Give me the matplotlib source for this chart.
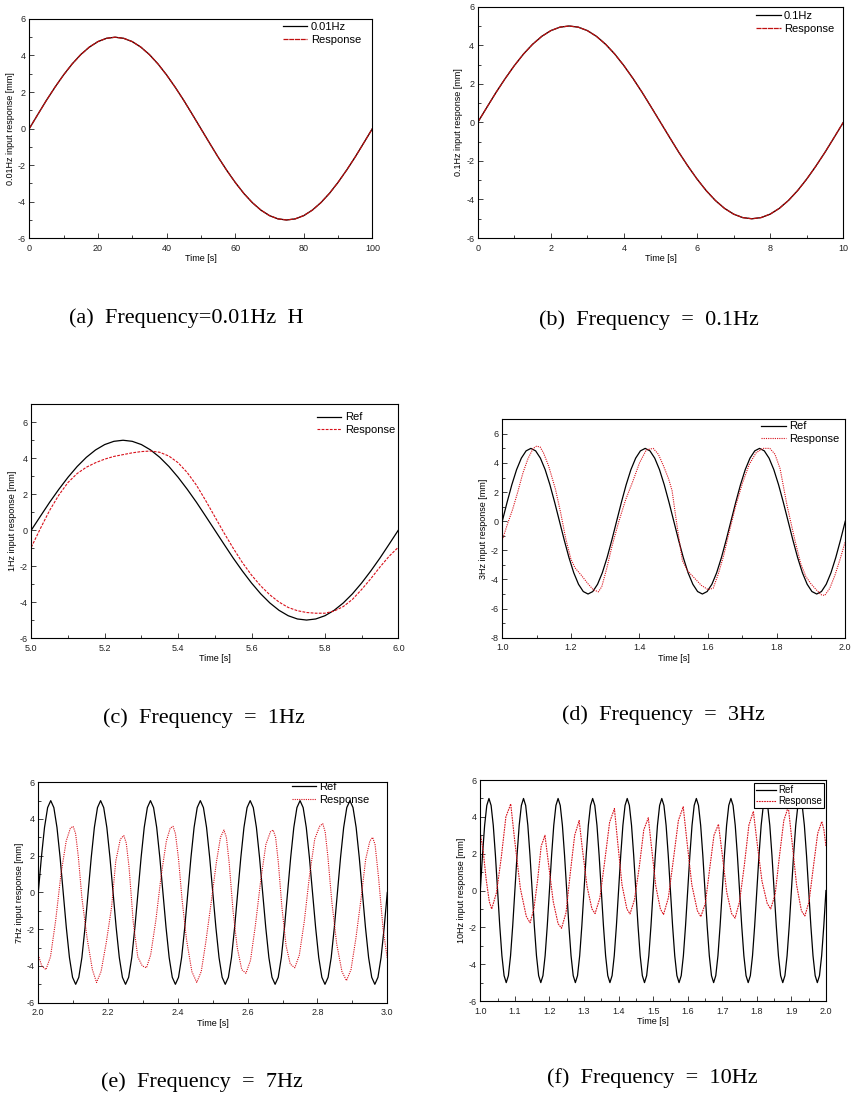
import numpy as np
import matplotlib
matplotlib.use('Agg')
import matplotlib.pyplot as plt
from matplotlib.ticker import MultipleLocator

plt.rcParams['font.family'] = ['Liberation Sans', 'DejaVu Sans']

# ---- data ----
# one slow cycle, 40 samples (used for the 0.01Hz, 0.1Hz and 1Hz references)
ref_slow = [0, 0.78, 1.55, 2.27, 2.94, 3.54, 4.05, 4.46, 4.76, 4.94,
            5, 4.94, 4.76, 4.46, 4.05, 3.54, 2.94, 2.27, 1.55, 0.78,
            0, -0.78, -1.55, -2.27, -2.94, -3.54, -4.05, -4.46, -4.76, -4.94,
            -5, -4.94, -4.76, -4.46, -4.05, -3.54, -2.94, -2.27, -1.55, -0.78, 0]

# (a) 0.01Hz: response lies on the reference
ref_a = ref_slow
resp_a = ref_slow
# (b) 0.1Hz
ref_b = ref_slow
resp_b = ref_slow
# (c) 1Hz
ref_c = ref_slow
resp_c = [-0.95, 0.1, 1.1, 1.95, 2.65, 3.15, 3.5, 3.75, 3.95, 4.1,
          4.2, 4.3, 4.37, 4.4, 4.33, 4.12, 3.75, 3.2, 2.5, 1.65,
          0.75, -0.15, -1.0, -1.8, -2.5, -3.1, -3.6, -4.0, -4.3, -4.48,
          -4.58, -4.62, -4.62, -4.5, -4.25, -3.85, -3.3, -2.7, -2.05, -1.45, -0.95]

# (d) 3Hz reference, 24 samples per cycle
ref_d = [0, 1.29, 2.5, 3.54, 4.33, 4.83, 5, 4.83, 4.33, 3.54, 2.5, 1.29, 0, -1.29, -2.5, -3.54, -4.33, -4.83, -5, -4.83, -4.33, -3.54, -2.5, -1.29,
         0, 1.29, 2.5, 3.54, 4.33, 4.83, 5, 4.83, 4.33, 3.54, 2.5, 1.29, 0, -1.29, -2.5, -3.54, -4.33, -4.83, -5, -4.83, -4.33, -3.54, -2.5, -1.29,
         0, 1.29, 2.5, 3.54, 4.33, 4.83, 5, 4.83, 4.33, 3.54, 2.5, 1.29, 0, -1.29, -2.5, -3.54, -4.33, -4.83, -5, -4.83, -4.33, -3.54, -2.5, -1.29,
         0]
resp_d_t = [1.000, 1.015, 1.030, 1.045, 1.060, 1.075, 1.090, 1.100, 1.110, 1.120, 1.135, 1.155, 1.170, 1.185,
            1.200, 1.212, 1.230, 1.250, 1.265, 1.280, 1.290, 1.305, 1.320, 1.340, 1.360, 1.380, 1.400, 1.420,
            1.440, 1.455, 1.470, 1.485, 1.495, 1.510, 1.525, 1.540, 1.560, 1.580, 1.600, 1.615, 1.630, 1.645,
            1.660, 1.680, 1.700, 1.720, 1.740, 1.760, 1.780, 1.795, 1.810, 1.830, 1.854, 1.870, 1.885, 1.900,
            1.915, 1.930, 1.940, 1.955, 1.970, 1.985, 2.000]
resp_d = [-1.3, -0.2, 0.8, 2.0, 3.3, 4.3, 5.0, 5.15, 5.1, 4.7, 3.8, 2.2, 0.6, -1.2,
          -2.6, -3.2, -3.7, -4.3, -4.7, -4.85, -4.5, -3.2, -1.7, 0.0, 1.5, 2.7, 4.0, 4.9,
          5.0, 4.6, 3.8, 2.9, 2.1, -0.4, -2.7, -3.4, -3.9, -4.4, -4.7, -4.6, -3.6, -2.4,
          -0.9, 1.0, 2.6, 3.9, 4.7, 5.0, 5.0, 4.6, 3.6, 1.1, -1.4, -2.9, -3.8, -4.3,
          -4.7, -5.05, -5.1, -4.6, -3.7, -2.6, -1.4]

# (e) 7Hz reference, 16 samples per cycle
ref_e = [0, 1.91, 3.54, 4.62, 5, 4.62, 3.54, 1.91, 0, -1.91, -3.54, -4.62, -5, -4.62, -3.54, -1.91,
         0, 1.91, 3.54, 4.62, 5, 4.62, 3.54, 1.91, 0, -1.91, -3.54, -4.62, -5, -4.62, -3.54, -1.91,
         0, 1.91, 3.54, 4.62, 5, 4.62, 3.54, 1.91, 0, -1.91, -3.54, -4.62, -5, -4.62, -3.54, -1.91,
         0, 1.91, 3.54, 4.62, 5, 4.62, 3.54, 1.91, 0, -1.91, -3.54, -4.62, -5, -4.62, -3.54, -1.91,
         0, 1.91, 3.54, 4.62, 5, 4.62, 3.54, 1.91, 0, -1.91, -3.54, -4.62, -5, -4.62, -3.54, -1.91,
         0, 1.91, 3.54, 4.62, 5, 4.62, 3.54, 1.91, 0, -1.91, -3.54, -4.62, -5, -4.62, -3.54, -1.91,
         0, 1.91, 3.54, 4.62, 5, 4.62, 3.54, 1.91, 0, -1.91, -3.54, -4.62, -5, -4.62, -3.54, -1.91,
         0]
resp_e_t = [2.000, 2.010, 2.022, 2.035, 2.050, 2.065, 2.080, 2.092, 2.100, 2.107, 2.115, 2.125, 2.140, 2.155,
            2.167, 2.180, 2.195, 2.210, 2.222, 2.235, 2.245, 2.252, 2.260, 2.272, 2.285, 2.298, 2.310, 2.322,
            2.337, 2.352, 2.367, 2.378, 2.386, 2.393, 2.402, 2.412, 2.425, 2.440, 2.454, 2.467, 2.480, 2.495,
            2.510, 2.522, 2.532, 2.539, 2.547, 2.558, 2.570, 2.583, 2.595, 2.608, 2.622, 2.637, 2.652, 2.665,
            2.673, 2.680, 2.688, 2.698, 2.710, 2.722, 2.735, 2.748, 2.762, 2.777, 2.792, 2.806, 2.815, 2.822,
            2.830, 2.841, 2.855, 2.870, 2.883, 2.896, 2.910, 2.925, 2.938, 2.950, 2.958, 2.965, 2.975, 2.988,
            3.000]
resp_e = [-3.4, -4.0, -4.2, -3.5, -1.5, 1.0, 2.8, 3.5, 3.6, 3.2, 1.9, -0.3, -2.5, -4.2,
          -4.9, -4.3, -2.7, -0.8, 1.7, 2.9, 3.1, 2.7, 1.4, -1.6, -3.5, -4.0, -4.1, -3.4,
          -1.5, 0.9, 2.8, 3.5, 3.6, 3.2, 1.8, -0.4, -2.6, -4.3, -4.9, -4.3, -2.7, -0.6,
          1.6, 3.0, 3.4, 3.0, 1.6, -1.0, -3.0, -4.2, -4.4, -3.7, -1.8, 0.6, 2.6, 3.3,
          3.4, 3.0, 1.6, -0.8, -2.9, -3.9, -4.1, -3.4, -1.6, 0.9, 2.9, 3.6, 3.75, 3.3,
          1.9, -0.5, -2.8, -4.3, -4.8, -4.2, -2.5, -0.3, 1.8, 2.8, 3.0, 2.6, 0.8, -2.0,
          -3.6]

# (f) 10Hz reference, 16 samples per cycle
ref_f = [0, 1.91, 3.54, 4.62, 5, 4.62, 3.54, 1.91, 0, -1.91, -3.54, -4.62, -5, -4.62, -3.54, -1.91,
         0, 1.91, 3.54, 4.62, 5, 4.62, 3.54, 1.91, 0, -1.91, -3.54, -4.62, -5, -4.62, -3.54, -1.91,
         0, 1.91, 3.54, 4.62, 5, 4.62, 3.54, 1.91, 0, -1.91, -3.54, -4.62, -5, -4.62, -3.54, -1.91,
         0, 1.91, 3.54, 4.62, 5, 4.62, 3.54, 1.91, 0, -1.91, -3.54, -4.62, -5, -4.62, -3.54, -1.91,
         0, 1.91, 3.54, 4.62, 5, 4.62, 3.54, 1.91, 0, -1.91, -3.54, -4.62, -5, -4.62, -3.54, -1.91,
         0, 1.91, 3.54, 4.62, 5, 4.62, 3.54, 1.91, 0, -1.91, -3.54, -4.62, -5, -4.62, -3.54, -1.91,
         0, 1.91, 3.54, 4.62, 5, 4.62, 3.54, 1.91, 0, -1.91, -3.54, -4.62, -5, -4.62, -3.54, -1.91,
         0, 1.91, 3.54, 4.62, 5, 4.62, 3.54, 1.91, 0, -1.91, -3.54, -4.62, -5, -4.62, -3.54, -1.91,
         0, 1.91, 3.54, 4.62, 5, 4.62, 3.54, 1.91, 0, -1.91, -3.54, -4.62, -5, -4.62, -3.54, -1.91,
         0, 1.91, 3.54, 4.62, 5, 4.62, 3.54, 1.91, 0, -1.91, -3.54, -4.62, -5, -4.62, -3.54, -1.91,
         0]
resp_f_t = [1.000, 1.008, 1.017, 1.026, 1.033, 1.047, 1.061, 1.074, 1.088, 1.099, 1.116, 1.133, 1.144,
            1.155, 1.166, 1.176, 1.187, 1.197, 1.211, 1.225, 1.235, 1.248, 1.260, 1.273, 1.286, 1.295,
            1.309, 1.323, 1.332, 1.346, 1.360, 1.374, 1.388, 1.397, 1.410, 1.424, 1.433, 1.446, 1.460,
            1.473, 1.486, 1.495, 1.508, 1.521, 1.530, 1.544, 1.558, 1.573, 1.587, 1.597, 1.612, 1.628,
            1.638, 1.651, 1.663, 1.676, 1.689, 1.699, 1.713, 1.727, 1.737, 1.750, 1.764, 1.777, 1.790,
            1.800, 1.815, 1.830, 1.840, 1.853, 1.865, 1.878, 1.891, 1.901, 1.915, 1.929, 1.939, 1.951,
            1.963, 1.976, 1.988, 1.994, 2.000]
resp_f = [3.1, 2.2, 0.6, -0.6, -1.0, -0.1, 1.85, 4.0, 4.7, 2.8, 0.1, -1.4, -1.75,
          -1.0, 0.6, 2.4, 3.0, 1.5, -0.6, -1.8, -2.05, -1.2, 0.9, 3.0, 3.8, 2.3,
          0.2, -1.0, -1.25, -0.4, 1.6, 3.7, 4.45, 2.7, 0.3, -1.0, -1.27, -0.5, 1.3,
          3.3, 3.95, 2.4, 0.2, -1.0, -1.3, -0.4, 1.6, 3.8, 4.55, 2.8, 0.3, -1.1,
          -1.42, -0.7, 1.1, 3.0, 3.6, 2.1, -0.1, -1.25, -1.5, -0.6, 1.4, 3.55, 4.3,
          2.7, 0.5, -0.7, -1.0, -0.2, 1.8, 3.8, 4.55, 2.8, 0.3, -1.1, -1.38, -0.6,
          1.2, 3.1, 3.75, 3.3, 2.4]

RED = '#d8101a'
DARKRED = '#c01010'


def style_axes(ax, xlim, ylim, xmaj, ymaj, ylabel, xfmt):
    ax.set_xlim(*xlim)
    ax.set_ylim(*ylim)
    ax.xaxis.set_major_locator(MultipleLocator(xmaj))
    ax.xaxis.set_minor_locator(MultipleLocator(xmaj / 2))
    ax.yaxis.set_major_locator(MultipleLocator(ymaj))
    ax.yaxis.set_minor_locator(MultipleLocator(ymaj / 2))
    ax.xaxis.set_major_formatter(plt.FormatStrFormatter(xfmt))
    ax.yaxis.set_major_formatter(plt.FormatStrFormatter('%d'))
    ax.tick_params(which='both', direction='in', top=False, right=False,
                   labelsize=6.5, width=0.6, colors='#222222')
    ax.tick_params(axis='x', pad=4)
    ax.tick_params(axis='y', pad=2.5)
    ax.tick_params(which='major', length=3.5)
    ax.tick_params(which='minor', length=2)
    for s in ax.spines.values():
        s.set_linewidth(0.8)
    ax.set_xlabel('Time [s]', fontsize=6.5, labelpad=1)
    ax.set_ylabel(ylabel, fontsize=6.5, labelpad=2)


fig = plt.figure(figsize=(8.62, 11.01), dpi=100)

# (a)
ax = fig.add_axes([0.034, 0.7836, 0.398, 0.1992])
ax.plot(np.linspace(0, 100, len(ref_a)), ref_a, color='black', lw=0.9, label='0.01Hz')
ax.plot(np.linspace(0, 100, len(resp_a)), resp_a, color=DARKRED, lw=0.9,
        ls=(0, (4, 0.6)), label='Response')
style_axes(ax, (0, 100), (-6, 6), 20, 2, '0.01Hz input response [mm]', '%d')
ax.legend(loc='upper right', bbox_to_anchor=(0.967, 0.985), frameon=False, fontsize=8,
          borderpad=0, borderaxespad=0, handlelength=2.2, handletextpad=0.3, labelspacing=0.25)

# (b)
ax = fig.add_axes([0.5542, 0.7838, 0.4241, 0.2101])
ax.plot(np.linspace(0, 10, len(ref_b)), ref_b, color='black', lw=0.9, label='0.1Hz')
ax.plot(np.linspace(0, 10, len(resp_b)), resp_b, color=DARKRED, lw=0.9,
        ls=(0, (4, 0.6)), label='Response')
style_axes(ax, (0, 10), (-6, 6), 2, 2, '0.1Hz input response [mm]', '%d')
ax.legend(loc='upper right', bbox_to_anchor=(0.975, 0.98), frameon=False, fontsize=8,
          borderpad=0, borderaxespad=0, handlelength=2.2, handletextpad=0.3, labelspacing=0.25)

# (c)
ax = fig.add_axes([0.0363, 0.4205, 0.4258, 0.2123])
ax.plot(np.linspace(5, 6, len(ref_c)), ref_c, color='black', lw=0.9, label='Ref')
ax.plot(np.linspace(5, 6, len(resp_c)), resp_c, color=RED, lw=0.8,
        ls=(0, (2.5, 1.2)), label='Response')
style_axes(ax, (5, 6), (-6, 7), 0.2, 2, '1Hz input response [mm]', '%.1f')
ax.legend(loc='upper right', bbox_to_anchor=(0.991, 0.965), frameon=False, fontsize=8,
          borderpad=0, borderaxespad=0, handlelength=2.2, handletextpad=0.3, labelspacing=0.25)

# (d)
ax = fig.add_axes([0.5827, 0.4208, 0.3979, 0.1984])
ax.plot(np.linspace(1, 2, len(ref_d)), ref_d, color='black', lw=0.9, label='Ref')
ax.plot(resp_d_t, resp_d, color=RED, lw=0.8, ls=(0, (1, 1)), label='Response')
style_axes(ax, (1, 2), (-8, 7), 0.2, 2, '3Hz input response [mm]', '%.1f')
ax.legend(loc='upper right', bbox_to_anchor=(0.982, 0.99), frameon=False, fontsize=8,
          borderpad=0, borderaxespad=0, handlelength=2.2, handletextpad=0.3, labelspacing=0.25)

# (e)
ax = fig.add_axes([0.0444, 0.0893, 0.4049, 0.2002])
ax.plot(np.linspace(2, 3, len(ref_e)), ref_e, color='black', lw=0.9, label='Ref')
ax.plot(resp_e_t, resp_e, color=RED, lw=0.8, ls=(0, (1, 1)), label='Response')
style_axes(ax, (2, 3), (-6, 6), 0.2, 2, '7Hz input response [mm]', '%.1f')
ax.legend(loc='upper right', bbox_to_anchor=(0.95, 1.0), frameon=False, fontsize=8,
          borderpad=0, borderaxespad=0, handlelength=2.2, handletextpad=0.3, labelspacing=0.25)

# (f)
ax = fig.add_axes([0.5572, 0.0908, 0.4010, 0.2007])
ax.plot(np.linspace(1, 2, len(ref_f)), ref_f, color='black', lw=0.9, label='Ref')
ax.plot(resp_f_t, resp_f, color=RED, lw=0.8, ls=(0, (1.5, 0.8)), label='Response')
style_axes(ax, (1, 2), (-6, 6), 0.1, 2, '10Hz input response [mm]', '%.1f')
leg = ax.legend(loc='upper right', bbox_to_anchor=(0.995, 0.985), frameon=True, fontsize=7,
                borderpad=0.2, borderaxespad=0, handlelength=2.0, handletextpad=0.3,
                labelspacing=0.1, fancybox=False, framealpha=1)
leg.get_frame().set_edgecolor('black')
leg.get_frame().set_linewidth(0.8)

# captions
cap = dict(fontsize=16, family=['Liberation Serif', 'DejaVu Serif'], ha='center', va='center')
fig.text(186 / 862, 1 - 318 / 1101, '(a)  Frequency=0.01Hz  H', **cap)
fig.text(649 / 862, 1 - 320 / 1101, '(b)  Frequency  =  0.1Hz', **cap)
fig.text(204 / 862, 1 - 718 / 1101, '(c)  Frequency  =  1Hz', **cap)
fig.text(663 / 862, 1 - 715 / 1101, '(d)  Frequency  =  3Hz', **cap)
fig.text(202 / 862, 1 - 1082 / 1101, '(e)  Frequency  =  7Hz', **cap)
fig.text(652 / 862, 1 - 1078 / 1101, '(f)  Frequency  =  10Hz', **cap)

fig.savefig('out.png', dpi=100)
